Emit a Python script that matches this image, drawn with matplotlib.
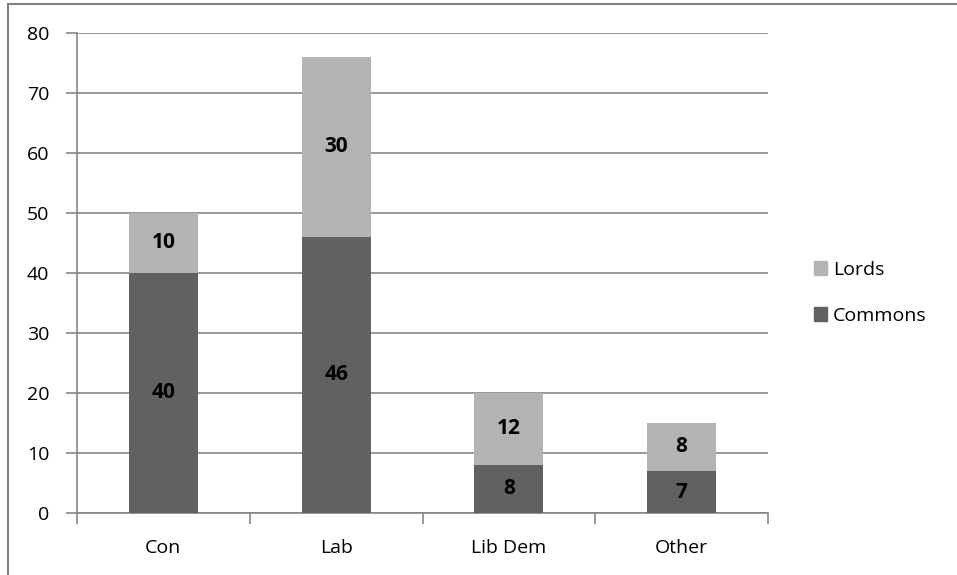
import matplotlib.pyplot as plt
from matplotlib.lines import Line2D
from matplotlib.patches import Patch

# ---- data ----
parties = ["Con", "Lab", "Lib Dem", "Other"]
commons = [40, 46, 8, 7]
lords = [10, 30, 12, 8]

plt.rcParams['font.family'] = ['Open Sans', 'DejaVu Sans']

dark = "#616161"
light = "#b3b3b3"
grid_col = "#868686"

fig = plt.figure(figsize=(9.57, 5.75), dpi=100)
ax = fig.add_axes([77 / 957, 1 - 513 / 575, (768 - 77) / 957, (513 - 33) / 575])

x = list(range(len(parties)))
ax.bar(x, commons, width=0.4, color=dark, zorder=3)
ax.bar(x, lords, width=0.4, bottom=commons, color=light, zorder=3)

# labels inside segments
for i in x:
    ax.text(i, commons[i] / 2, str(commons[i]), ha="center", va="center",
            fontsize=15, fontweight="bold", color="black", zorder=4)
    ax.text(i, commons[i] + lords[i] / 2, str(lords[i]), ha="center", va="center",
            fontsize=15, fontweight="bold", color="black", zorder=4)

ax.set_xlim(-0.5, len(parties) - 0.5)
ax.set_ylim(0, 80)
ax.set_yticks(range(0, 81, 10))
ax.yaxis.grid(True, color=grid_col, linewidth=1.2, zorder=0)
ax.set_axisbelow(True)

ax.set_xticks(x)
ax.set_xticklabels(parties, fontsize=14)
ax.set_xticks([i - 0.5 for i in range(len(parties) + 1)], minor=True)
ax.tick_params(axis="x", which="major", length=0, pad=19)
ax.tick_params(axis="x", which="minor", length=8, width=1.2, color=grid_col)
ax.tick_params(axis="y", length=8, width=1.2, color=grid_col, labelsize=14, pad=12)

for side in ["top", "right"]:
    ax.spines[side].set_visible(False)
for side in ["left", "bottom"]:
    ax.spines[side].set_color(grid_col)
    ax.spines[side].set_linewidth(1.2)

handles = [Patch(color=light, label="Lords"), Patch(color=dark, label="Commons")]
fig.legend(handles=handles, loc="center left", bbox_to_anchor=(796 / 957, 1 - 293 / 575),
           frameon=False, fontsize=14, handlelength=0.7, handleheight=0.7,
           handletextpad=0.3, labelspacing=1.45)

# outer frame (top and left edges)
fig.add_artist(Line2D([8 / 957, 8 / 957], [0, 1 - 3.5 / 575], transform=fig.transFigure,
                      color="#808080", linewidth=1.5))
fig.add_artist(Line2D([8 / 957, 1], [1 - 3.5 / 575, 1 - 3.5 / 575], transform=fig.transFigure,
                      color="#808080", linewidth=1.5))

fig.savefig("out.png", dpi=100)
